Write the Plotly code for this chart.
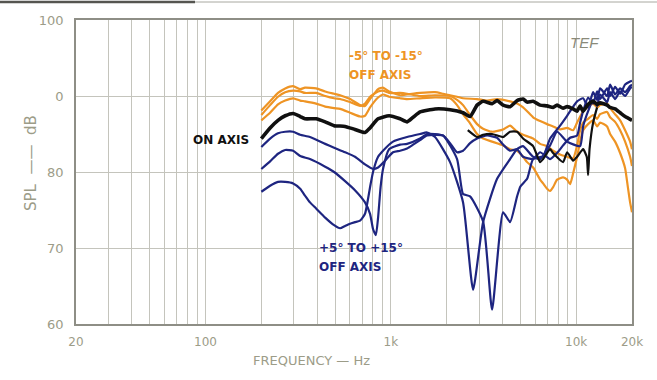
import plotly.graph_objects as go

# ---------------- measured responses (frequency in Hz, level in dB SPL) ----------------
on_axis_f = [200, 223, 246, 269, 297, 324, 344, 395, 442, 494, 566, 640, 725, 772, 853, 978,
             1121, 1223, 1318, 1437, 1731, 2086, 2452, 2675, 2919, 3144, 3516, 3742, 4031, 4397,
             4798, 5169, 5433, 5853, 6385, 6966, 7504, 7886, 8497, 8930, 9620, 10110, 10498,
             10895, 11593, 12336, 12962, 13454, 14677, 15235, 16213, 17253, 18359, 20000]
on_axis_db = [84.4, 85.8, 86.8, 87.4, 87.7, 87.3, 87.0, 87.0, 86.6, 86.1, 86.0, 85.6, 85.2, 85.8,
              87.0, 87.4, 87.0, 86.6, 87.2, 87.9, 88.3, 88.2, 87.8, 87.3, 88.8, 89.3, 89.0, 89.4,
              88.8, 88.6, 89.4, 89.6, 89.2, 89.3, 88.8, 88.7, 88.5, 88.8, 88.4, 88.6, 88.3, 88.0,
              88.7, 88.0, 88.9, 89.3, 88.9, 89.1, 88.8, 88.5, 88.3, 87.8, 87.3, 86.8]

on_axis_b_f = [2600, 2919, 3144, 3516, 4031, 4397, 4798, 5169, 5853, 6385, 6629, 7229, 7504,
               8497, 8930, 9620, 10110, 10895, 11400, 11593, 11800, 12336, 12962]
on_axis_b_db = [85.5, 84.6, 84.9, 85.0, 84.6, 85.3, 85.3, 84.4, 83.4, 81.3, 81.7, 83.0, 82.5,
                81.3, 82.6, 81.5, 82.0, 83.0, 82.0, 79.6, 83.0, 86.5, 88.5]

neg5_f = [200, 223, 246, 269, 297, 324, 344, 395, 442, 494, 532, 602, 682, 725, 772, 853, 907,
          978, 1121, 1223, 1437, 1731, 1912, 2276, 2452, 2919, 3305, 3742, 4397, 4798, 5169,
          5433, 5853, 6385, 6966, 7504, 8185, 8930, 9620, 10110, 10895, 11593, 12336, 12962,
          13454, 14677, 15235, 16213, 17253, 18359, 19532, 20000]
neg5_db = [88.1, 89.3, 90.4, 91.0, 91.3, 90.9, 91.1, 91.0, 90.6, 90.3, 90.1, 89.6, 88.8, 88.7,
           89.6, 90.9, 91.1, 90.6, 90.1, 90.2, 90.4, 90.5, 90.3, 89.9, 89.7, 89.6, 89.4, 89.6,
           89.3, 89.0, 88.5, 88.0, 87.2, 86.7, 86.3, 86.0, 85.6, 85.8, 85.5, 86.5, 88.0, 88.6,
           89.0, 88.5, 88.8, 89.0, 88.4, 87.6, 86.8, 85.5, 84.0, 83.0]

neg10_f = [200, 223, 246, 269, 297, 324, 344, 395, 442, 494, 532, 602, 682, 725, 772, 853, 907,
           978, 1121, 1223, 1437, 1731, 2086, 2276, 2452, 2675, 2919, 3144, 3516, 4031, 4397,
           4798, 5169, 5853, 6385, 6966, 7504, 8185, 8930, 9620, 10110, 10498, 10895, 11593,
           12336, 12962, 13454, 14677, 15235, 16213, 17253, 18359, 19532, 20000]
neg10_db = [87.5, 88.8, 89.9, 90.5, 90.7, 90.6, 90.4, 90.4, 90.0, 89.7, 89.6, 89.2, 88.7, 89.0,
            89.9, 90.6, 90.7, 90.4, 90.4, 90.3, 90.0, 90.1, 90.0, 89.5, 88.8, 87.5, 86.3, 85.7,
            85.3, 85.6, 86.1, 85.3, 84.9, 84.4, 83.7, 83.4, 82.8, 82.3, 82.0, 81.8, 83.5, 85.5,
            86.5, 87.0, 87.5, 87.0, 87.6, 87.9, 87.2, 86.6, 85.5, 84.0, 82.0, 80.8]

neg15_f = [200, 223, 246, 269, 297, 324, 344, 395, 442, 494, 532, 602, 682, 725, 772, 853, 907,
           978, 1121, 1223, 1437, 1731, 2086, 2276, 2452, 2675, 2919, 3144, 3516, 4031, 4397,
           4798, 5169, 5433, 5853, 6385, 6629, 6966, 7229, 7504, 7886, 8497, 8930, 9268, 9620,
           10110, 10498, 10895, 11593, 12336, 12962, 13454, 14677, 15235, 16213, 17253, 18359,
           19000, 19532, 20000]
neg15_db = [86.8, 87.8, 88.9, 89.4, 89.7, 89.4, 89.3, 89.0, 88.6, 88.4, 88.3, 87.8, 87.3, 87.4,
            88.5, 89.8, 90.2, 89.9, 89.7, 89.6, 89.7, 89.8, 89.7, 88.8, 87.6, 86.4, 85.0, 84.4,
            84.0, 83.5, 83.0, 82.8, 82.0, 81.3, 80.6, 79.0, 78.5, 77.8, 77.5, 78.0, 79.0, 79.3,
            79.0, 78.4, 79.8, 82.0, 84.0, 85.5, 86.3, 86.8, 86.0, 86.5, 86.0, 85.0, 84.0, 82.5,
            80.5, 78.0, 76.0, 74.7]

pos5_f = [200, 223, 246, 269, 297, 324, 366, 442, 494, 566, 640, 725, 801, 853, 907, 1027, 1121,
          1223, 1318, 1437, 1568, 1912, 2086, 2276, 2452, 2675, 2919, 3305, 3742, 4031, 4397,
          4798, 5169, 5853, 6385, 7229, 7886, 8497, 9268, 10110, 10498, 10895, 11593, 12336,
          12962, 13454, 14677, 15235, 16213, 17253, 18359, 19532, 20000]
pos5_db = [83.3, 84.4, 85.1, 85.3, 85.3, 84.9, 84.6, 83.7, 83.2, 82.6, 82.0, 81.0, 80.4, 80.6,
           81.2, 82.6, 82.8, 83.1, 83.6, 84.2, 84.8, 84.8, 83.8, 82.6, 82.8, 83.8, 84.4, 84.8,
           84.5, 83.6, 82.8, 83.0, 82.0, 81.7, 82.6, 81.7, 82.5, 83.5, 84.5, 84.8, 86.5, 88.0,
           89.8, 89.0, 90.6, 89.6, 91.0, 90.0, 91.2, 90.3, 91.5, 91.9, 92.0]

pos10_f = [200, 223, 246, 269, 297, 324, 366, 442, 494, 566, 640, 725, 772, 801, 830, 853, 880,
           907, 978, 1121, 1223, 1437, 1568, 1912, 2276, 2452, 2675, 3144, 3516, 4031, 4397,
           4798, 5000, 5433, 5853, 6629, 7229, 8185, 8930, 10110, 10895, 11593, 12336, 12962,
           13454, 14677, 15235, 16213, 17253, 18359, 19532, 20000]
pos10_db = [80.4, 81.4, 82.4, 82.9, 82.8, 82.1, 81.7, 80.7, 80.0, 78.8, 77.6, 76.0, 74.5, 72.5,
            71.7, 74.0, 78.0, 80.4, 83.0, 83.6, 83.7, 84.4, 85.0, 84.8, 81.7, 77.1, 76.8, 73.5,
            61.9, 74.7, 73.4, 76.8, 78.1, 79.1, 81.7, 82.1, 84.4, 86.1, 87.4, 89.3, 89.7, 88.5,
            90.5, 89.5, 91.0, 90.0, 91.5, 90.2, 91.0, 90.5, 91.3, 91.5]

pos15_f = [200, 223, 246, 269, 297, 324, 344, 366, 395, 442, 494, 532, 566, 602, 640, 682, 725,
           772, 801, 853, 907, 1027, 1223, 1437, 1568, 1731, 2086, 2452, 2777, 3144, 3742, 4397,
           4798, 5169, 5853, 6385, 7229, 7886, 8930, 10498, 10895, 11593, 12336, 12962, 13454,
           14677, 15235, 16213, 17253, 18359, 19532, 20000]
pos15_db = [77.4, 78.2, 78.7, 78.7, 78.5, 77.8, 76.9, 76.0, 75.2, 74.0, 73.0, 72.6, 72.9, 73.2,
            73.4, 73.6, 74.5, 78.0, 80.0, 82.0, 82.8, 84.0, 84.6, 85.0, 85.2, 84.6, 81.3, 76.0,
            64.5, 73.4, 79.1, 81.7, 83.0, 83.4, 82.0, 81.7, 83.5, 85.3, 84.0, 83.4, 86.0, 88.0,
            89.5, 88.7, 90.2, 89.2, 90.5, 89.6, 90.6, 90.0, 91.0, 91.2]

# ---------------- axis ticks ----------------
grid_freqs = [20, 30, 40, 50, 60, 70, 80, 90, 100, 200, 300, 400, 500, 600, 700, 800, 900,
              1000, 2000, 3000, 4000, 5000, 6000, 7000, 8000, 9000, 10000, 20000]
freq_labels = {20: "20", 100: "100", 1000: "1k", 10000: "10k", 20000: "20k"}
spl_ticks = [60, 70, 80, 90, 100]
spl_labels = ["60", "70", "80", "0", "100"]

ORANGE = "#EE9424"
NAVY = "#1E2580"
BLACK = "#101010"
AXIS_TEXT = "#9C9C88"
GRID = "#C4C4BC"
FONT = "DejaVu Sans"

fig = go.Figure()

def add_curve(f, db, color, width):
    fig.add_trace(go.Scatter(x=f, y=db, mode="lines",
                             line=dict(color=color, width=width, shape="spline", smoothing=0.5),
                             hoverinfo="skip", showlegend=False))

for f, db in [(neg5_f, neg5_db), (neg10_f, neg10_db), (neg15_f, neg15_db)]:
    add_curve(f, db, ORANGE, 2.2)
for f, db in [(pos5_f, pos5_db), (pos10_f, pos10_db), (pos15_f, pos15_db)]:
    add_curve(f, db, NAVY, 2.2)
add_curve(on_axis_b_f, on_axis_b_db, BLACK, 2.2)
add_curve(on_axis_f, on_axis_db, BLACK, 3.6)

L, R, T, B = 76, 25, 20, 56
W, H = 657, 380
pw, ph = W - L - R, H - T - B

def px(x):
    return (x - L) / pw

def py(y):
    return (H - B - y) / ph

ann = [
    dict(text="-5° TO -15°", x=px(347), y=py(56), xanchor="left", color=ORANGE),
    dict(text="OFF AXIS", x=px(347), y=py(75), xanchor="left", color=ORANGE),
    dict(text="ON AXIS", x=px(251), y=py(140), xanchor="right", color=BLACK),
    dict(text="+5° TO +15°", x=px(317), y=py(248), xanchor="left", color=NAVY),
    dict(text="OFF AXIS", x=px(317), y=py(267), xanchor="left", color=NAVY),
]
annotations = []
for a in ann:
    annotations.append(dict(text="<b>%s</b>" % a["text"], x=a["x"], y=a["y"],
                            xref="paper", yref="paper",
                            xanchor=a["xanchor"], yanchor="middle", showarrow=False,
                            font=dict(family=FONT, size=12, color=a["color"])))
annotations.append(dict(text="<i>TEF</i>", x=px(601), y=py(32), xref="paper", yref="paper",
                        showarrow=False, font=dict(family="Liberation Sans", size=15, color="#8A8A7A")))
annotations.append(dict(text="FREQUENCY — Hz", x=px(311), y=py(370), xref="paper", yref="paper",
                        showarrow=False, font=dict(family=FONT, size=13, color=AXIS_TEXT)))
annotations.append(dict(text="SPL&nbsp;&nbsp;——&nbsp;&nbsp;dB", x=px(20), y=py(163),
                        xref="paper", yref="paper", showarrow=False, textangle=-90,
                        font=dict(family=FONT, size=15, color=AXIS_TEXT)))

shapes = [
    dict(type="line", xref="paper", yref="paper", x0=px(0), x1=px(195), y0=py(2), y1=py(2),
         line=dict(color="#555550", width=2.5)),
    dict(type="line", xref="paper", yref="paper", x0=px(195), x1=px(W), y0=py(2), y1=py(2),
         line=dict(color="#A8A8A0", width=1)),
]

fig.update_layout(
    width=W, height=H,
    margin=dict(l=L, r=R, t=T, b=B),
    paper_bgcolor="white", plot_bgcolor="white",
    annotations=annotations, shapes=shapes,
    xaxis=dict(type="log", range=[1.30103, 4.30103],
               tickmode="array", tickvals=grid_freqs,
               ticktext=[freq_labels.get(v, "") for v in grid_freqs],
               showgrid=True, gridcolor=GRID, gridwidth=1,
               showline=True, linecolor="#8E8E86", linewidth=1.5, mirror=True,
               ticks="outside", ticklen=6, tickcolor="rgba(0,0,0,0)",
               tickfont=dict(family=FONT, size=12, color=AXIS_TEXT), zeroline=False),
    yaxis=dict(range=[60, 100], tickmode="array", tickvals=spl_ticks, ticktext=spl_labels,
               showgrid=True, gridcolor=GRID, gridwidth=1,
               showline=True, linecolor="#8E8E86", linewidth=1.5, mirror=True,
               ticks="outside", ticklen=8, tickcolor="rgba(0,0,0,0)",
               tickfont=dict(family=FONT, size=13, color=AXIS_TEXT), zeroline=False),
)

fig.write_html("out.html")
